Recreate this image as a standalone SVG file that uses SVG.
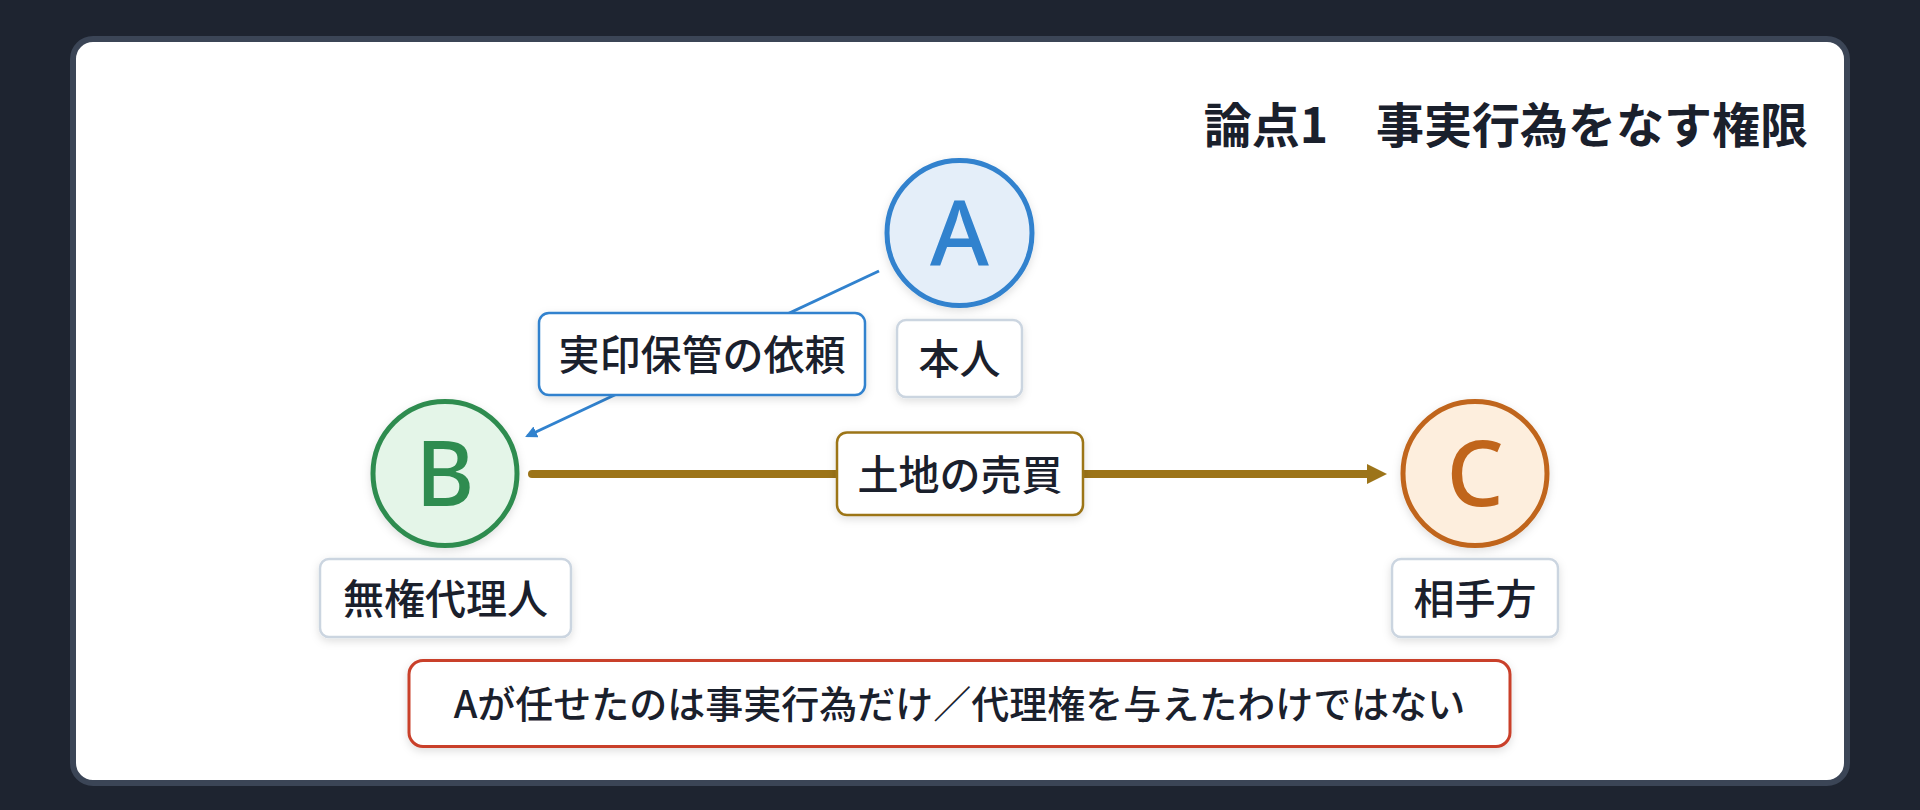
<svg xmlns="http://www.w3.org/2000/svg" width="1920" height="810" viewBox="0 0 1920 810">
  <defs>
    <style>
      .jp { font-family: "Noto Sans CJK JP", "Noto Sans", sans-serif; fill: #1a202c; }
      .lbl { font-size: 41px; font-weight: 500; text-anchor: middle; }
      .ltr { font-family: "Noto Sans", "Liberation Sans", sans-serif; font-size: 90px; font-weight: 500; text-anchor: middle; }
      .box { fill: #ffffff; stroke-width: 2.5; }
      .grey { stroke: #cbd5e0; }
    </style>
    <filter id="sh" x="-20%" y="-20%" width="140%" height="150%">
      <feDropShadow dx="0" dy="3" stdDeviation="4" flood-color="#000000" flood-opacity="0.13"/>
    </filter>
    <marker id="arrBlue" viewBox="0 0 10 10" refX="8" refY="5" markerWidth="4" markerHeight="4" orient="auto" markerUnits="strokeWidth">
      <path d="M0,0 L10,5 L0,10 z" fill="#3182ce"/>
    </marker>
    <marker id="arrGold" viewBox="0 0 10 10" refX="0.5" refY="5" markerWidth="2.65" markerHeight="2.5" orient="auto" markerUnits="strokeWidth">
      <path d="M0,0 L10,5 L0,10 z" fill="#9c7419"/>
    </marker>
  </defs>

  <rect x="0" y="0" width="1920" height="810" fill="#1e2430"/>
  <rect x="73" y="39" width="1774" height="744" rx="20" fill="#ffffff" stroke="#3b4556" stroke-width="6"/>

  <text id="title" class="jp" x="1808" y="143" font-size="48" font-weight="700" text-anchor="end">論点1　事実行為をなす権限</text>

  <g id="connectors">
    <line x1="879" y1="271" x2="527.3" y2="436" stroke="#3182ce" stroke-width="3" marker-end="url(#arrBlue)"/>
    <line x1="532" y1="474" x2="1368" y2="474" stroke="#9c7419" stroke-width="8" stroke-linecap="round" marker-end="url(#arrGold)"/>
  </g>

  <g id="node-A">
    <circle cx="959.5" cy="233" r="72.5" fill="#e4eef9" stroke="#3182ce" stroke-width="5" filter="url(#sh)"/>
    <text class="ltr" x="959.5" y="265.5" fill="#3182ce">A</text>
  </g>
  <g id="label-A">
    <rect class="box grey" x="897" y="320" width="125" height="77" rx="9" filter="url(#sh)"/>
    <text class="jp lbl" x="959.5" y="374">本人</text>
  </g>

  <g id="node-B">
    <circle cx="445" cy="473.5" r="72" fill="#e4f5e8" stroke="#2f8c50" stroke-width="5" filter="url(#sh)"/>
    <text class="ltr" x="445" y="506" fill="#2f8c50">B</text>
  </g>
  <g id="label-B">
    <rect class="box grey" x="320" y="559" width="251" height="78" rx="9" filter="url(#sh)"/>
    <text class="jp lbl" x="445.5" y="613.5">無権代理人</text>
  </g>

  <g id="node-C">
    <circle cx="1475" cy="473.5" r="72" fill="#fdeedd" stroke="#c0651b" stroke-width="5" filter="url(#sh)"/>
    <text class="ltr" x="1475" y="506" fill="#c0651b">C</text>
  </g>
  <g id="label-C">
    <rect class="box grey" x="1392" y="559" width="166" height="78" rx="9" filter="url(#sh)"/>
    <text class="jp lbl" x="1475" y="613.5">相手方</text>
  </g>

  <g id="edge-label-AB">
    <rect class="box" x="539" y="313" width="326" height="82" rx="10" stroke="#3182ce" filter="url(#sh)"/>
    <text class="jp lbl" x="702" y="369.5">実印保管の依頼</text>
  </g>

  <g id="edge-label-BC">
    <rect class="box" x="837" y="432.5" width="246" height="82.5" rx="10" stroke="#9c7419" filter="url(#sh)"/>
    <text class="jp lbl" x="960" y="489.5">土地の売買</text>
  </g>

  <g id="note">
    <rect x="409" y="660.5" width="1101" height="86" rx="14" fill="#ffffff" stroke="#c9402b" stroke-width="3" filter="url(#sh)"/>
    <text class="jp" x="959.5" y="717.5" font-size="38" font-weight="500" text-anchor="middle">Aが任せたのは事実行為だけ／代理権を与えたわけではない</text>
  </g>
</svg>
